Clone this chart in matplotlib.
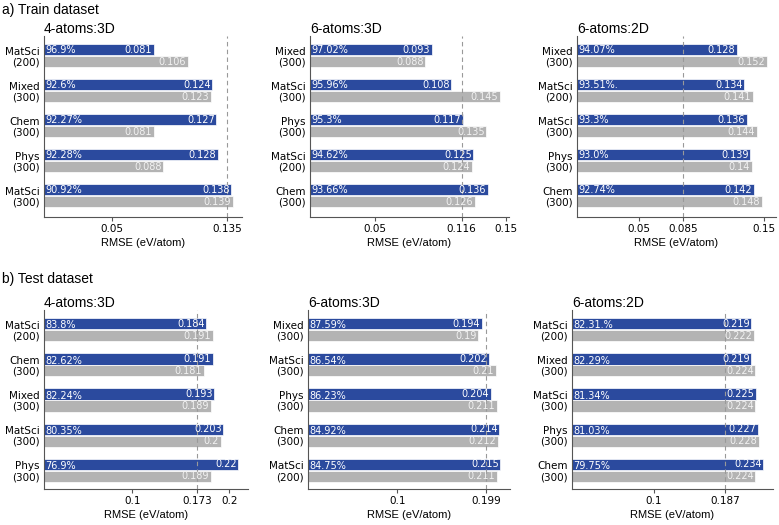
import matplotlib.pyplot as plt

# ---- data ----
titles = ["4-atoms:3D", "6-atoms:3D", "6-atoms:2D"]

train_labels = [
    ["MatSci\n(200)", "Mixed\n(300)", "Chem\n(300)", "Phys\n(300)", "MatSci\n(300)"],
    ["Mixed\n(300)", "MatSci\n(300)", "Phys\n(300)", "MatSci\n(200)", "Chem\n(300)"],
    ["Mixed\n(300)", "MatSci\n(200)", "MatSci\n(300)", "Phys\n(300)", "Chem\n(300)"],
]
train_pct = [
    ["96.9%", "92.6%", "92.27%", "92.28%", "90.92%"],
    ["97.02%", "95.96%", "95.3%", "94.62%", "93.66%"],
    ["94.07%", "93.51%.", "93.3%", "93.0%", "92.74%"],
]
train_blue = [
    [0.081, 0.124, 0.127, 0.128, 0.138],
    [0.093, 0.108, 0.117, 0.125, 0.136],
    [0.128, 0.134, 0.136, 0.139, 0.142],
]
train_gray = [
    [0.106, 0.123, 0.081, 0.088, 0.139],
    [0.088, 0.145, 0.135, 0.124, 0.126],
    [0.152, 0.141, 0.144, 0.14, 0.148],
]
train_ref = [0.135, 0.116, 0.085]
train_ticks = [[0.05, 0.135], [0.05, 0.116, 0.15], [0.05, 0.085, 0.15]]
train_ticklabels = [["0.05", "0.135"], ["0.05", "0.116", "0.15"], ["0.05", "0.085", "0.15"]]

test_labels = [
    ["MatSci\n(200)", "Chem\n(300)", "Mixed\n(300)", "MatSci\n(300)", "Phys\n(300)"],
    ["Mixed\n(300)", "MatSci\n(300)", "Phys\n(300)", "Chem\n(300)", "MatSci\n(200)"],
    ["MatSci\n(200)", "Mixed\n(300)", "MatSci\n(300)", "Phys\n(300)", "Chem\n(300)"],
]
test_pct = [
    ["83.8%", "82.62%", "82.24%", "80.35%", "76.9%"],
    ["87.59%", "86.54%", "86.23%", "84.92%", "84.75%"],
    ["82.31.%", "82.29%", "81.34%", "81.03%", "79.75%"],
]
test_blue = [
    [0.184, 0.191, 0.193, 0.203, 0.22],
    [0.194, 0.202, 0.204, 0.214, 0.215],
    [0.219, 0.219, 0.225, 0.227, 0.234],
]
test_gray = [
    [0.191, 0.181, 0.189, 0.2, 0.189],
    [0.19, 0.21, 0.211, 0.212, 0.211],
    [0.222, 0.224, 0.224, 0.228, 0.224],
]
test_ref = [0.173, 0.199, 0.187]
# the "0.2" tick in the first test panel sits a bit right of 0.2 in the original
test_ticks = [[0.1, 0.173, 0.21], [0.1, 0.199], [0.1, 0.187]]
test_ticklabels = [["0.1", "0.173", "0.2"], ["0.1", "0.199"], ["0.1", "0.187"]]

BLUE = "#2b4a9e"
GRAY = "#b3b3b3"
HEAD_FONT = "Liberation Sans"


def draw_panel(ax, title, labels, pct, blue, gray, ref, ticks, ticklabels,
               ybottom, pct_shift):
    n = len(labels)
    ys = list(range(n))
    h = 0.32
    yb = [y - 0.17 for y in ys]
    yg = [y + 0.17 for y in ys]
    ax.barh(yb, blue, height=h, color=BLUE, edgecolor="white", linewidth=0.5, zorder=2)
    ax.barh(yg, gray, height=h, color=GRAY, edgecolor="white", linewidth=0.5, zorder=2)
    ax.axvline(ref, color="#999999", linestyle=(0, (4, 3)), linewidth=0.8, zorder=3)

    xmax = max(max(blue), max(gray)) * 1.05
    inset = xmax * 0.008
    for i in range(n):
        ax.text(inset, yb[i] + pct_shift, pct[i], color="white", fontsize=7,
                va="center", ha="left", zorder=4)
        ax.text(blue[i] - inset, yb[i], str(blue[i]), color="white", fontsize=7,
                va="center", ha="right", zorder=4)
        ax.text(gray[i] - inset, yg[i], str(gray[i]), color="#f2f2f2", fontsize=7,
                va="center", ha="right", zorder=4)

    ax.set_xlim(0, xmax)
    ax.set_ylim(ybottom, -0.56)
    ax.set_yticks(ys)
    ax.set_yticklabels(labels, fontsize=7.5, ha="right", linespacing=1.1)
    ax.tick_params(axis="y", length=0, pad=3)
    ax.set_xticks(ticks)
    ax.set_xticklabels(ticklabels, fontsize=7.5)
    ax.tick_params(axis="x", length=3, width=0.8, pad=2, color="#555555")
    ax.set_xlabel("RMSE (eV/atom)", fontsize=8, fontfamily=HEAD_FONT, labelpad=3)
    ax.text(0.0, 1.0 + 3.0 / 180, title, transform=ax.transAxes, fontsize=10,
            fontfamily=HEAD_FONT, ha="left", va="baseline")
    for s in ["top", "right"]:
        ax.spines[s].set_visible(False)
    for s in ["left", "bottom"]:
        ax.spines[s].set_color("#555555")
        ax.spines[s].set_linewidth(0.8)


fig = plt.figure(figsize=(7.79, 5.25), dpi=100)

W, H = 779.0, 525.0
top_boxes = [(44, 198), (310, 199), (577, 199)]
bot_boxes = [(44, 204), (308, 202), (572, 201)]

for k in range(3):
    x0, w = top_boxes[k]
    ax = fig.add_axes([x0 / W, 1 - 217 / H, w / W, 181 / H])
    draw_panel(ax, titles[k], train_labels[k], train_pct[k], train_blue[k],
               train_gray[k], train_ref[k], train_ticks[k], train_ticklabels[k],
               4.61, 0.0)

    x0, w = bot_boxes[k]
    ax = fig.add_axes([x0 / W, 1 - 489 / H, w / W, 179 / H])
    draw_panel(ax, titles[k], test_labels[k], test_pct[k], test_blue[k],
               test_gray[k], test_ref[k], test_ticks[k], test_ticklabels[k],
               4.53, 0.05)

fig.text(0.003, 0.995, "a) Train dataset", fontsize=10, fontfamily=HEAD_FONT,
         ha="left", va="top")
fig.text(0.003, 1 - 272 / H, "b) Test dataset", fontsize=10, fontfamily=HEAD_FONT,
         ha="left", va="top")

fig.savefig("out.png", dpi=100)
